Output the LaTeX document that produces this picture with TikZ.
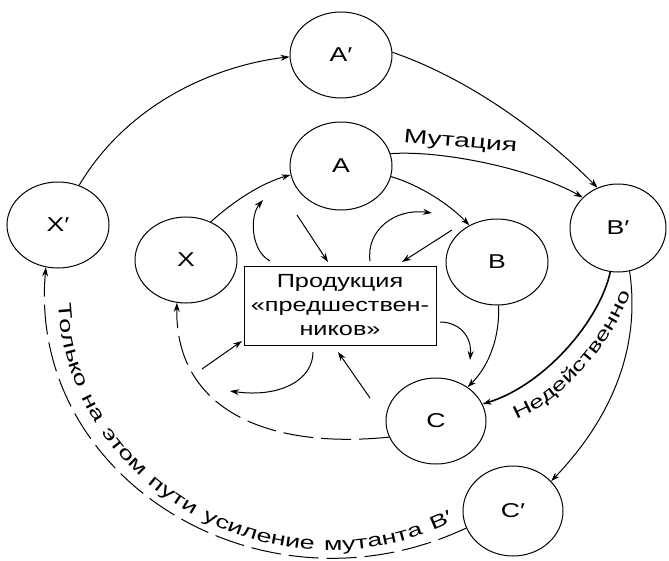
\documentclass[tikz,border=0pt]{standalone}
\usepackage{fontspec}
\setmainfont{Liberation Sans}[FakeStretch=1.33]
\newfontfamily\widefont{Liberation Sans}[FakeStretch=1.45]
\usetikzlibrary{arrows.meta,shapes.geometric,decorations.text}
\begin{document}
\begin{tikzpicture}[x=1pt,y=-1pt, line width=1pt,
  st/.style={ellipse, draw, line width=1pt, minimum width=102pt, minimum height=86pt, inner sep=0pt, font=\fontsize{20}{24}\selectfont},
  arr/.style={-{Stealth[length=9pt,width=6pt]}},
  dsh/.style={dash pattern=on 30pt off 8pt},
  lbl/.style={font=\widefont\fontsize{19.5}{23}\selectfont, inner sep=0pt}]
\useasboundingbox (0,0) rectangle (669,560);
% circles
\node[st] (Ap) at (341,55) {A′};
\node[st, minimum height=88pt] (A) at (341,166) {A};
\node[st] (Xp) at (58,225) {X′};
\node[st] (X) at (186,260) {X};
\node[st] (B) at (497,262) {B};
\node[st, minimum width=96pt, minimum height=88pt] (Bp) at (618,228) {B′};
\node[st, minimum width=100pt] (C) at (436,421) {C};
\node[st, minimum width=100pt, minimum height=90pt] (Cp) at (513,511) {C′};
% box
\node[draw, minimum width=192pt, minimum height=79pt, inner sep=0pt, align=center,
      font=\fontsize{19}{24}\selectfont] (box) at (340,305.5) {Продукция\\«предшествен-\\ников»};
% outer ring
\draw[arr] (Xp.62) .. controls (130,100) and (220,65) .. (Ap.182);
\draw[arr] (Ap.3) .. controls (473,80) and (547,137) .. (Bp.117);
\draw[arr] (A.14) .. controls (440,150) and (530,168) .. (Bp.139);
\node[lbl, rotate=-5, anchor=base] (mut) at (460,147) {Мутация};
\draw[arr, line width=1.6pt] (Bp.260) .. controls (600,320) and (545,385) .. (C.20);
\path[decorate, decoration={text along path,
   text={|\widefont\fontsize{18}{22}\selectfont|Недейственно}, text align=center}]
   (517,419) .. controls (555,405) and (610,350) .. (630,294);
\draw[arr] (Bp.285) .. controls (642,355) and (605,425) .. (Cp.38);
\draw[arr, dsh] (Cp.200) .. controls (262,624) and (27,479) .. (Xp.254);
\path[decorate, decoration={text along path,
   text={|\widefont\fontsize{18.5}{22}\selectfont|Только на этом пути усиление мутанта B′},
   text align={fit to path stretching spaces}}]
   (58.4,303.6) .. controls (68.7,491.6) and (278,607.2) .. (453.5,521.7);
% inner ring
\draw[arr] (A.348) .. controls (420,185) and (450,205) .. (B.127);
\draw[arr, dsh] (C.199) .. controls (260,450) and (175,405) .. (X.258);
\draw[arr] (X.57) .. controls (235,200) and (262,183) .. (A.190);
\draw[arr] (B.272) .. controls (500,335) and (490,365) .. (C.47);
% small arrows around the box
\coordinate (b1) at (270,261); \coordinate (b2) at (263,200);
\coordinate (c1) at (297,215); \coordinate (c2) at (328,262);
\coordinate (d1) at (370,261); \coordinate (d2) at (432,213);
\coordinate (e1) at (452,230); \coordinate (e2) at (402,262);
\coordinate (f1) at (440,322); \coordinate (f2) at (470,360);
\coordinate (h1) at (313,352); \coordinate (h2) at (230,391);
\coordinate (i1) at (370,398); \coordinate (i2) at (338,352);
\coordinate (j1) at (202,369); \coordinate (j2) at (242,341);
\draw[arr] (b1) .. controls (250,250) and (250,215) .. (b2);
\draw[arr] (c1) -- (c2);
\draw[arr] (d1) .. controls (366,230) and (395,208) .. (d2);
\draw[arr] (e1) -- (e2);
\draw[arr] (f1) .. controls (458,322) and (472,335) .. (f2);
\draw[arr] (h1) .. controls (313,380) and (280,398) .. (h2);
\draw[arr] (i1) -- (i2);
\draw[arr] (j1) -- (j2);
\end{tikzpicture}
\end{document}
